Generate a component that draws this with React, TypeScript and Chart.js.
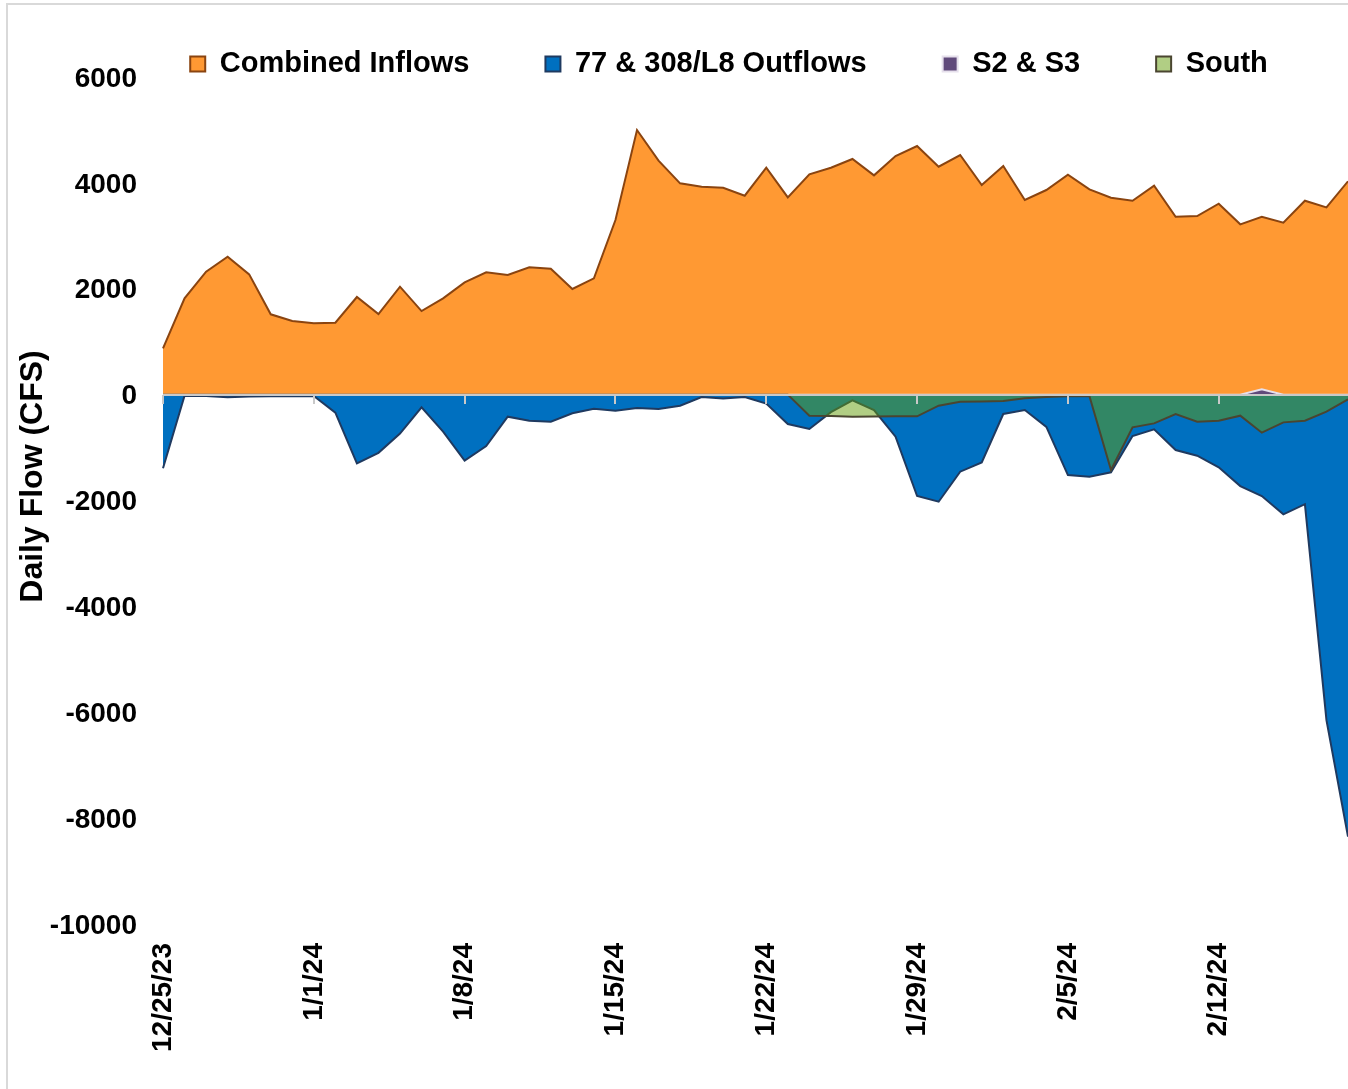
import React, { useEffect, useRef } from "react";
import { Chart, registerables } from "chart.js";

Chart.register(...registerables);

const dates = [
  "12/25/23", "12/26/23", "12/27/23", "12/28/23", "12/29/23", "12/30/23", "12/31/23",
  "1/1/24", "1/2/24", "1/3/24", "1/4/24", "1/5/24", "1/6/24", "1/7/24",
  "1/8/24", "1/9/24", "1/10/24", "1/11/24", "1/12/24", "1/13/24", "1/14/24",
  "1/15/24", "1/16/24", "1/17/24", "1/18/24", "1/19/24", "1/20/24", "1/21/24",
  "1/22/24", "1/23/24", "1/24/24", "1/25/24", "1/26/24", "1/27/24", "1/28/24",
  "1/29/24", "1/30/24", "1/31/24", "2/1/24", "2/2/24", "2/3/24", "2/4/24",
  "2/5/24", "2/6/24", "2/7/24", "2/8/24", "2/9/24", "2/10/24", "2/11/24",
  "2/12/24", "2/13/24", "2/14/24", "2/15/24", "2/16/24", "2/17/24", "2/18/24",
];

const combinedInflows = [
  875, 1819, 2322, 2605, 2272, 1517, 1390, 1347, 1359, 1844, 1523, 2039, 1579, 1819,
  2121, 2310, 2259, 2404, 2379, 1995, 2197, 3298, 4998, 4419, 3991, 3928, 3909, 3758,
  4287, 3727, 4161, 4287, 4451, 4142, 4507, 4696, 4305, 4526, 3959, 4318, 3676, 3865,
  4155, 3878, 3720, 3663, 3947, 3361, 3374, 3607, 3217, 3361, 3248, 3663, 3538, 4030,
];

const outflows77308 = [
  -1390, -20, -25, -50, -35, -30, -30, -25, -341, -1300, -1100, -735, -241, -700,
  -1245, -970, -417, -492, -511, -353, -265, -303, -253, -272, -209, -45, -75, -45,
  -170, -555, -650, -330, -108, -291, -795, -1915, -2023, -1456, -1280, -366, -291, -610,
  -1519, -1550, -1468, -782, -656, -1046, -1154, -1374, -1727, -1915, -2262, -2070, -6150, -8350,
];

const s2s3 = [
  0, 0, 0, 0, 0, 0, 0, 0, 0, 0, 0, 0, 0, 0,
  0, 0, 0, 0, 0, 0, 0, 0, 0, 0, 0, 0, 0, 0,
  0, 0, 0, 0, 0, 0, 0, 0, 0, 0, 0, 0, 0, 0,
  0, 0, 0, 0, 0, 0, 0, 0, 0, 100, 0, 0, 0, 0,
];

const south = [
  0, 0, 0, 0, 0, 0, 0, 0, 0, 0, 0, 0, 0, 0,
  0, 0, 0, 0, 0, 0, 0, 0, 0, 0, 0, 0, 0, 0,
  0, 0, -398, -404, -420, -415, -410, -410, -209, -134, -130, -121, -70, -45,
  -30, -30, -1424, -618, -543, -366, -511, -492, -398, -719, -524, -492, -322, -90,
];

const yMin = -10000;
const yMax = 6000;
const yStep = 2000;
const labelEvery = 7;
const yTitle = "Daily Flow (CFS)";

const FONT = "'Liberation Sans', Arial, Helvetica, sans-serif";

const zeroAxisPlugin = {
  id: "zeroAxis",
  afterDatasetsDraw(chart: any) {
    const { ctx, chartArea, scales } = chart;
    const x = scales.x;
    const y = scales.y;
    const y0 = Math.round(y.getPixelForValue(0));
    ctx.save();
    ctx.strokeStyle = "#C9C9C9";
    ctx.lineWidth = 2;
    ctx.beginPath();
    ctx.moveTo(chartArea.left, y0);
    ctx.lineTo(chartArea.right, y0);
    for (let i = 0; i < dates.length; i += labelEvery) {
      const px = Math.round(x.getPixelForValue(i));
      ctx.moveTo(px, y0);
      ctx.lineTo(px, y0 + 9);
    }
    ctx.stroke();
    ctx.restore();
  },
};

// shifts the legend row so that it sits where the original places it
const legendShiftPlugin = {
  id: "legendShift",
  afterLayout(chart: any) {
    const lg = chart.legend;
    if (lg) {
      lg.left += 55;
      lg.right += 55;
    }
  },
};

const yTitlePlugin = {
  id: "yTitle",
  afterDraw(chart: any) {
    const { ctx, chartArea } = chart;
    ctx.save();
    ctx.font = `bold 32px ${FONT}`;
    ctx.fillStyle = "#000";
    ctx.textAlign = "center";
    ctx.textBaseline = "middle";
    ctx.translate(33, (chartArea.top + chartArea.bottom) / 2 - 24);
    ctx.rotate(-Math.PI / 2);
    ctx.fillText(yTitle, 0, 0);
    ctx.restore();
  },
};

export default function App() {
  const ref = useRef<HTMLCanvasElement>(null);

  useEffect(() => {
    const canvas = ref.current;
    if (!canvas) return;
    Chart.defaults.color = "#000";
    const chart = new Chart(canvas, {
      type: "line",
      data: {
        labels: dates,
        datasets: [
          {
            label: "Combined Inflows",
            data: combinedInflows,
            backgroundColor: "#FF9933",
            borderColor: "#8A4410",
            borderWidth: 2,
            fill: "origin",
            pointRadius: 0,
            order: 4,
          },
          {
            label: "77 & 308/L8 Outflows",
            data: outflows77308,
            backgroundColor: "#0070C0",
            borderColor: "#1F3A60",
            borderWidth: 2,
            fill: "origin",
            pointRadius: 0,
            order: 3,
          },
          {
            label: "S2 & S3",
            data: s2s3,
            backgroundColor: "#604A7B",
            borderColor: "#E6E0EC",
            borderWidth: 2,
            fill: "origin",
            pointRadius: 0,
            order: 2,
          },
          {
            label: "South",
            data: south,
            backgroundColor: "rgba(100,158,10,0.5)",
            borderColor: "#4A4530",
            borderWidth: 2,
            fill: "origin",
            pointRadius: 0,
            order: 1,
          },
        ],
      },
      options: {
        responsive: false,
        animation: false,
        layout: { padding: { left: 0, right: 0, top: -26.5, bottom: 18 } },
        elements: { line: { tension: 0 } },
        plugins: {
          tooltip: { enabled: false },
          legend: {
            position: "top",
            maxHeight: 103.5,
            labels: {
              font: { family: FONT, size: 29, weight: "bold" },
              color: "#000",
              boxWidth: 15,
              boxHeight: 15,
              padding: 76,
              sort: (a: any, b: any) => a.datasetIndex - b.datasetIndex,
            },
          },
        },
        scales: {
          x: {
            type: "category",
            grid: { display: false, drawTicks: false },
            border: { display: false },
            ticks: {
              autoSkip: false,
              minRotation: 90,
              maxRotation: 90,
              padding: 19,
              font: { family: FONT, size: 28, weight: "bold" },
              color: "#000",
              callback: (_v: any, i: number) => (i % labelEvery === 0 ? dates[i] : null),
            },
          },
          y: {
            min: yMin,
            max: yMax,
            grid: { display: false, drawTicks: false },
            border: { display: false },
            afterFit: (scale: any) => {
              scale.width = 163;
            },
            ticks: {
              stepSize: yStep,
              padding: 26,
              labelOffset: 2,
              font: { family: FONT, size: 28, weight: "bold" },
              color: "#000",
              callback: (v: any) => String(v),
            },
          },
        },
      },
      plugins: [zeroAxisPlugin, legendShiftPlugin, yTitlePlugin],
    } as any);
    return () => chart.destroy();
  }, []);

  return (
    <div
      style={{
        position: "absolute",
        left: 0,
        top: 0,
        width: 1348,
        height: 1089,
        overflow: "hidden",
        background: "#fff",
      }}
    >
      <div
        style={{
          position: "absolute",
          left: 6,
          top: 3,
          width: 1500,
          height: 1200,
          borderLeft: "2px solid #D9D9D9",
          borderTop: "2px solid #D9D9D9",
        }}
      />
      <canvas
        ref={ref}
        width={1348}
        height={1089}
        style={{ position: "absolute", left: 0, top: 0, width: 1348, height: 1089 }}
      />
    </div>
  );
}
